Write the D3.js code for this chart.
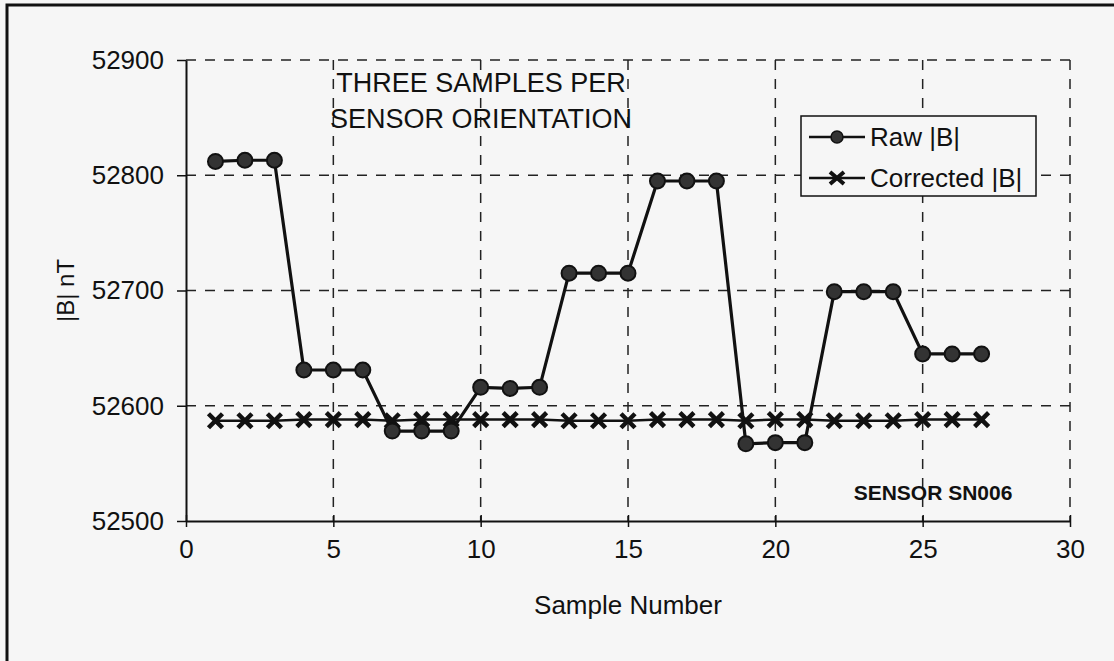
<!DOCTYPE html>
<html>
<head>
<meta charset="utf-8">
<script src="https://cdn.jsdelivr.net/npm/d3@7"></script>
<style>
  body { margin: 0; background: #f6f6f6; }
  svg { font-family: Arial, "Liberation Sans", sans-serif; }
</style>
</head>
<body>
<div id="chart"></div>
<script>
//DATA
const sampleNumbers = [1,2,3,4,5,6,7,8,9,10,11,12,13,14,15,16,17,18,19,20,21,22,23,24,25,26,27];
const rawB = [52812,52813,52813,52631,52631,52631,52578,52578,52578,52616,52615,52616,52715,52715,52715,52795,52795,52795,52567,52568,52568,52699,52699,52699,52645,52645,52645];
const correctedB = [52587,52587,52587,52588,52588,52588,52587,52588,52588,52588,52588,52588,52587,52587,52587,52588,52588,52588,52587,52588,52588,52587,52587,52587,52588,52588,52588];
const xTicks = [0,5,10,15,20,25,30];
const yTicks = [52500,52600,52700,52800,52900];
const seriesNames = ['Raw |B|', 'Corrected |B|'];
const noteLines = ['THREE SAMPLES PER', 'SENSOR ORIENTATION'];
const sensorLabel = 'SENSOR SN006';

//SIZES
const W = 1114, H = 661;
const margin = { top: 60, right: 44, bottom: 140, left: 186 };
const width = W - margin.left - margin.right;
const height = H - margin.top - margin.bottom;

const svg = d3.select('#chart').append('svg').attr('width', W).attr('height', H);
svg.append('rect').attr('width', W).attr('height', H).attr('fill', '#f6f6f6');
// outer frame (runs off the right and bottom edges)
svg.append('rect').attr('x', 7).attr('y', 5).attr('width', W + 20).attr('height', H + 20)
    .attr('fill', 'none').attr('stroke', '#111').attr('stroke-width', 3);

const g = svg.append('g').attr('transform', `translate(${margin.left},${margin.top})`);

const x = d3.scaleLinear().domain([0, 30]).range([0, width]);
const y = d3.scaleLinear().domain([52500, 52900]).range([height, 0]);

//GRID
g.selectAll('.hgrid').data(yTicks.slice(1)).enter().append('line')
    .attr('x1', 0).attr('x2', width)
    .attr('y1', d => y(d)).attr('y2', d => y(d))
    .attr('stroke', '#222').attr('stroke-width', 1.5).attr('stroke-dasharray', '10,9');
g.selectAll('.vgrid').data(xTicks.slice(1)).enter().append('line')
    .attr('x1', d => x(d)).attr('x2', d => x(d))
    .attr('y1', 0).attr('y2', height)
    .attr('stroke', '#222').attr('stroke-width', 1.5).attr('stroke-dasharray', '10,9');

//AXES
const xAxis = g.append('g').attr('transform', `translate(0,${height})`)
    .call(d3.axisBottom(x).tickValues(xTicks).tickSizeInner(6).tickSizeOuter(0).tickPadding(28));
const yAxis = g.append('g')
    .call(d3.axisLeft(y).tickValues(yTicks).tickFormat(d3.format('d')).tickSizeInner(9).tickSizeOuter(0).tickPadding(13));
[xAxis, yAxis].forEach(a => {
    a.select('.domain').attr('stroke', '#111').attr('stroke-width', 2);
    a.selectAll('.tick line').attr('stroke', '#111').attr('stroke-width', 1.5);
    a.selectAll('text').attr('fill', '#111').style('font-size', '26px')
        .style('font-family', 'Arial, "Liberation Sans", sans-serif');
});
// ticks cross the x axis
xAxis.selectAll('.tick line').attr('y1', -6);
xAxis.selectAll('text').attr('dy', '0.1em');

//AXIS TITLES
svg.append('text').attr('x', margin.left + x(15)).attr('y', 614)
    .attr('text-anchor', 'middle').style('font-size', '26px').attr('fill', '#111')
    .text('Sample Number');
svg.append('text').attr('transform', `translate(74,${margin.top + height / 2}) rotate(-90)`)
    .attr('text-anchor', 'middle').style('font-size', '24px').attr('fill', '#111')
    .text('|B| nT');

//SERIES
const rawData = sampleNumbers.map((s, i) => ({ x: s, y: rawB[i] }));
const corrData = sampleNumbers.map((s, i) => ({ x: s, y: correctedB[i] }));
const line = d3.line().x(d => x(d.x)).y(d => y(d.y));

g.append('path').datum(corrData).attr('d', line)
    .attr('fill', 'none').attr('stroke', '#111').attr('stroke-width', 2.5);
const xs = 7;
const cross = g.selectAll('.cross').data(corrData).enter().append('g')
    .attr('transform', d => `translate(${x(d.x)},${y(d.y)})`);
cross.append('path').attr('d', `M${-xs},${-xs}L${xs},${xs}M${-xs},${xs}L${xs},${-xs}`)
    .attr('stroke', '#111').attr('stroke-width', 4.5);

g.append('path').datum(rawData).attr('d', line)
    .attr('fill', 'none').attr('stroke', '#111').attr('stroke-width', 3.2);
g.selectAll('.dot').data(rawData).enter().append('circle')
    .attr('cx', d => x(d.x)).attr('cy', d => y(d.y)).attr('r', 7.5)
    .attr('fill', '#333').attr('stroke', '#111').attr('stroke-width', 2);

//NOTES
noteLines.forEach((t, i) => {
    svg.append('text').attr('x', 481).attr('y', 92 + i * 36)
        .attr('text-anchor', 'middle').style('font-size', '27px').attr('fill', '#111')
        .text(t);
});
svg.append('text').attr('x', 933).attr('y', 500)
    .attr('text-anchor', 'middle').style('font-size', '21px').style('font-weight', 'bold')
    .attr('fill', '#111').text(sensorLabel);

//LEGEND
const legend = svg.append('g').attr('transform', 'translate(801,116)');
legend.append('rect').attr('width', 235).attr('height', 80)
    .attr('fill', '#f6f6f6').attr('stroke', '#111').attr('stroke-width', 1.5);
seriesNames.forEach((name, i) => {
    const ly = 21 + i * 41;
    const item = legend.append('g').attr('transform', `translate(0,${ly})`);
    item.append('line').attr('x1', 8).attr('x2', 64).attr('y1', 0).attr('y2', 0)
        .attr('stroke', '#111').attr('stroke-width', 2.5);
    if (i === 0) {
        item.append('circle').attr('cx', 36).attr('cy', 0).attr('r', 6)
            .attr('fill', '#333').attr('stroke', '#111').attr('stroke-width', 1.5);
    } else {
        item.append('path').attr('d', `M29,-6L43,6M29,6L43,-6`)
            .attr('stroke', '#111').attr('stroke-width', 4);
    }
    item.append('text').attr('x', 69).attr('y', 0).attr('dy', '0.35em')
        .style('font-size', '26px').attr('fill', '#111').text(name);
});
</script>
</body>
</html>
